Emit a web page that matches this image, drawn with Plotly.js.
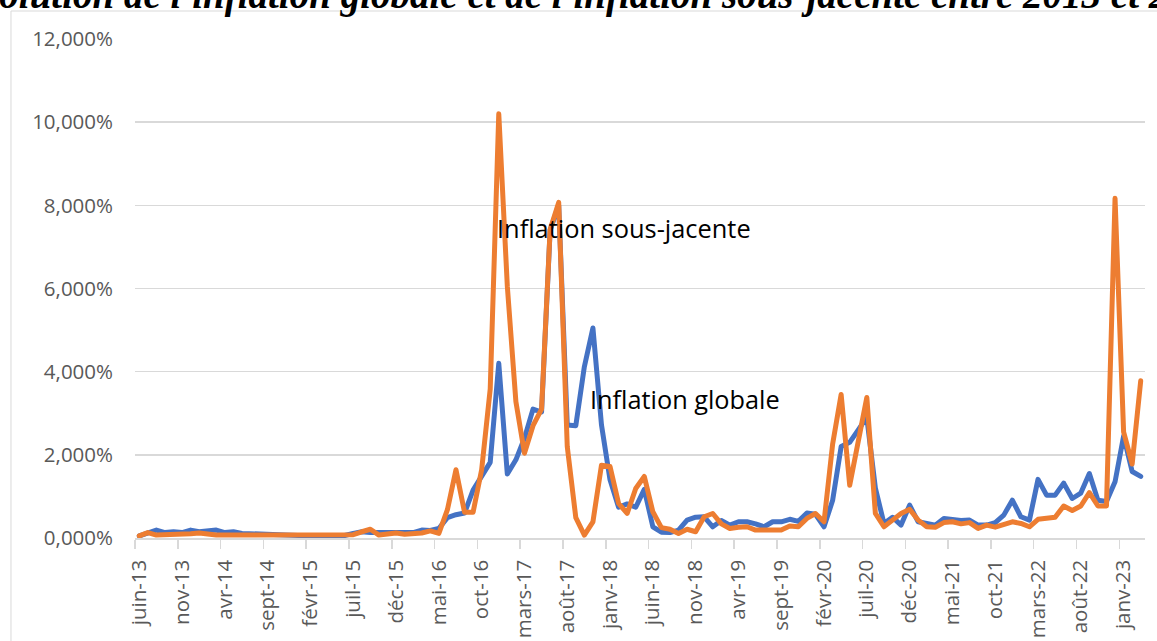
<!DOCTYPE html>
<html><head><meta charset="utf-8">
<script src="https://cdn.plot.ly/plotly-3.0.1.min.js"></script>
<style>
html,body{margin:0;padding:0;background:#fff;overflow:hidden;}
#chart{width:1157px;height:641px;}
.js-line{stroke-linejoin:round;stroke-linecap:round;}
</style></head><body><div id="chart"></div>
<script>
const categories = [
 "juin-13","juil-13","août-13","sept-13","oct-13","nov-13","déc-13",
 "janv-14","févr-14","mars-14","avr-14","mai-14","juin-14","juil-14","août-14","sept-14","oct-14","nov-14","déc-14",
 "janv-15","févr-15","mars-15","avr-15","mai-15","juin-15","juil-15","août-15","sept-15","oct-15","nov-15","déc-15",
 "janv-16","févr-16","mars-16","avr-16","mai-16","juin-16","juil-16","août-16","sept-16","oct-16","nov-16","déc-16",
 "janv-17","févr-17","mars-17","avr-17","mai-17","juin-17","juil-17","août-17","sept-17","oct-17","nov-17","déc-17",
 "janv-18","févr-18","mars-18","avr-18","mai-18","juin-18","juil-18","août-18","sept-18","oct-18","nov-18","déc-18",
 "janv-19","févr-19","mars-19","avr-19","mai-19","juin-19","juil-19","août-19","sept-19","oct-19","nov-19","déc-19",
 "janv-20","févr-20","mars-20","avr-20","mai-20","juin-20","juil-20","août-20","sept-20","oct-20","nov-20","déc-20",
 "janv-21","févr-21","mars-21","avr-21","mai-21","juin-21","juil-21","août-21","sept-21","oct-21","nov-21","déc-21",
 "janv-22","févr-22","mars-22","avr-22","mai-22","juin-22","juil-22","août-22","sept-22","oct-22","nov-22","déc-22",
 "janv-23","févr-23","mars-23"
];

const inflationGlobale = [
 0.05,0.13,0.19,0.13,0.15,0.13,0.19,0.15,0.17,0.19,
 0.13,0.15,0.11,0.10,0.09,0.07,0.06,0.05,0.05,0.05,
 0.05,0.05,0.06,0.05,0.06,0.11,0.15,0.13,0.13,0.11,
 0.13,0.11,0.13,0.19,0.18,0.23,0.49,0.56,0.60,1.15,
 1.48,1.82,4.20,1.54,1.88,2.40,3.10,3.03,7.40,8.00,
 2.72,2.70,4.12,5.05,2.72,1.40,0.74,0.82,0.74,1.17,
 0.27,0.14,0.13,0.19,0.43,0.50,0.51,0.27,0.42,0.31,
 0.39,0.39,0.34,0.27,0.39,0.39,0.45,0.40,0.60,0.57,
 0.27,0.90,2.20,2.30,2.60,2.90,1.20,0.35,0.50,0.31,
 0.79,0.39,0.35,0.31,0.47,0.43,0.42,0.43,0.31,0.31,
 0.37,0.55,0.91,0.51,0.43,1.41,1.03,1.03,1.32,0.95,
 1.08,1.55,0.91,0.88,1.35,2.45,1.60,1.48
];

const inflationSousJacente = [
 0.05,0.13,0.07,0.07,0.09,0.07,0.10,0.12,0.09,0.07,
 0.07,0.08,0.07,0.07,0.07,0.06,0.06,0.06,0.06,0.06,
 0.07,0.06,0.07,0.09,0.08,0.08,0.15,0.21,0.07,0.09,
 0.12,0.09,0.10,0.12,0.17,0.11,0.68,1.64,0.62,0.62,
 1.64,3.58,10.20,6.05,3.28,2.04,2.70,3.10,7.42,8.07,
 2.20,0.49,0.07,0.39,1.75,1.72,0.83,0.59,1.19,1.48,
 0.63,0.25,0.21,0.11,0.21,0.15,0.51,0.59,0.34,0.23,
 0.26,0.27,0.19,0.18,0.19,0.19,0.29,0.27,0.47,0.59,
 0.39,2.25,3.45,1.27,2.36,3.38,0.59,0.27,0.43,0.59,
 0.69,0.43,0.27,0.26,0.37,0.39,0.34,0.37,0.23,0.31,
 0.26,0.31,0.39,0.35,0.27,0.45,0.47,0.50,0.77,0.66,
 0.77,1.09,0.77,0.77,8.17,2.55,1.78,3.78
];

const labelStep = 5;
const titleText = "Évolution de l'inflation globale et de l'inflation sous-jacente entre 2013 et 2023";

const xIdx = categories.map((c, i) => i);
const tickVals = xIdx.filter(i => i % labelStep === 0);
const tickText = tickVals.map(i => categories[i]);
const tickBounds = tickVals.map(i => i - 0.5);

const traces = [
 {x: xIdx, y: inflationGlobale, text: categories, name: "Inflation globale", type: "scatter", mode: "lines",
  line: {color: "#4472C4", width: 5}, hovertemplate: "%{text}: %{y:.3f}%<extra></extra>"},
 {x: xIdx, y: inflationSousJacente, text: categories, name: "Inflation sous-jacente", type: "scatter", mode: "lines",
  line: {color: "#ED7D31", width: 5}, hovertemplate: "%{text}: %{y:.3f}%<extra></extra>"}
];

const layout = {
 width: 1157, height: 641,
 margin: {l: 135, r: 12, t: 39, b: 103, pad: 0},
 paper_bgcolor: "#fff", plot_bgcolor: "#fff",
 separators: ", ",
 showlegend: false,
 font: {family: "Open Sans", color: "#595959"},
 xaxis: {
  type: "linear", range: [-0.5, categories.length - 0.5],
  tickmode: "array", tickvals: tickVals, ticktext: tickText, tickangle: -90,
  ticks: "", showgrid: false, zeroline: false,
  showline: true, linecolor: "#d9d9d9", linewidth: 1.5,
  tickfont: {family: "Open Sans", size: 20.5, color: "#595959"},
  ticklabelstandoff: 12,
  minor: {tickmode: "array", tickvals: tickBounds, ticks: "outside", ticklen: 9,
          tickcolor: "#d9d9d9", tickwidth: 1.5, showgrid: false}
 },
 yaxis: {
  range: [0, 12], tickmode: "linear", tick0: 0, dtick: 2,
  tickformat: ".3f", ticksuffix: "%",
  showgrid: true, gridcolor: "#d9d9d9", gridwidth: 1.5,
  zeroline: false, showline: false, ticks: "",
  tickfont: {family: "Open Sans", size: 20.5, color: "#595959"},
  ticklabelstandoff: 21
 },
 shapes: [
  {type: "rect", xref: "paper", yref: "paper", x0: -0.1228, x1: 1.05, y0: -0.4, y1: 1.0561,
   line: {color: "#d9d9d9", width: 1}, fillcolor: "rgba(0,0,0,0)", layer: "below"}
 ],
 annotations: [
  {text: "Inflation sous-jacente", xref: "x", yref: "y", x: 41.6, y: 7.45, xanchor: "left", yanchor: "middle",
   showarrow: false, font: {family: "Open Sans", size: 25.4, color: "#000"}},
  {text: "Inflation globale", xref: "x", yref: "y", x: 52.4, y: 3.34, xanchor: "left", yanchor: "middle",
   showarrow: false, font: {family: "Open Sans", size: 25.3, color: "#000"}},
  {text: titleText, xref: "paper", yref: "paper", x: -0.1802, y: 1.041, xanchor: "left", yanchor: "bottom",
   showarrow: false, font: {family: "Liberation Serif", size: 39, color: "#000", weight: "bold", style: "italic"}}
 ]
};

Plotly.newPlot("chart", traces, layout, {displayModeBar: false, staticPlot: true});
</script>
</body></html>
